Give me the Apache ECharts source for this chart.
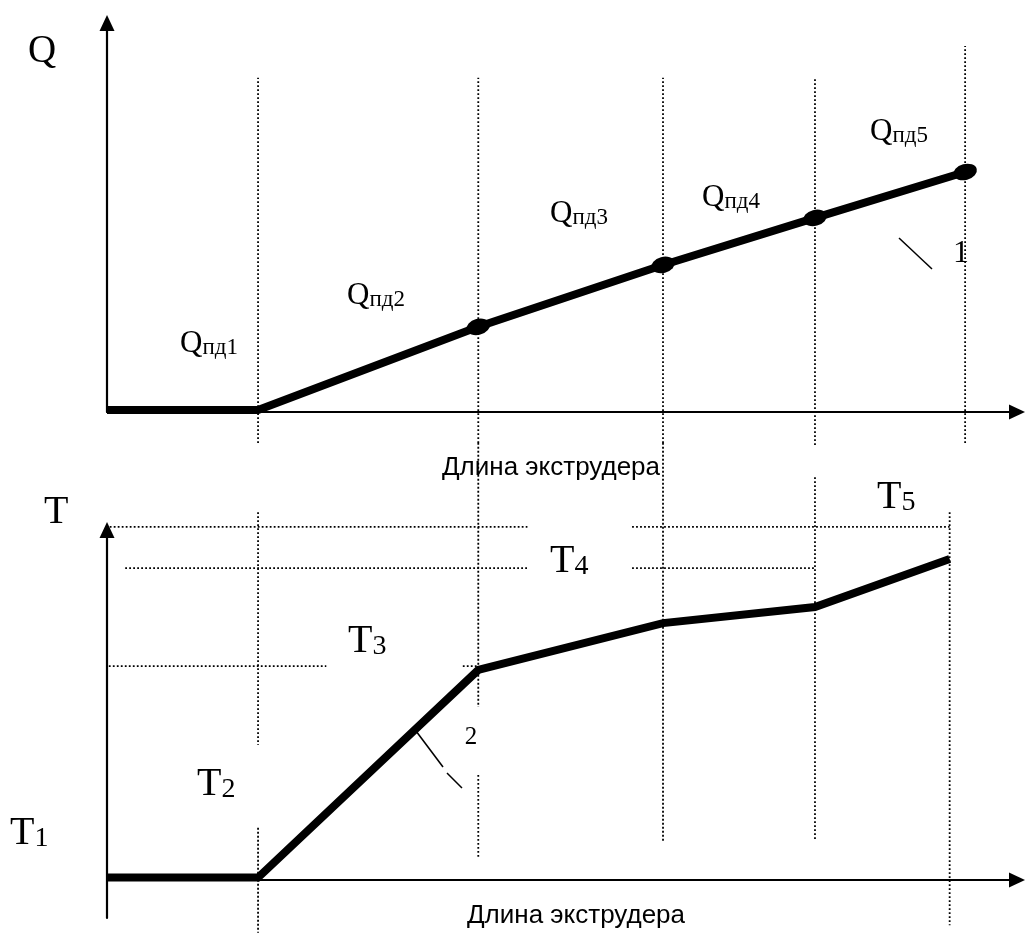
<!DOCTYPE html>
<html>
<head>
<meta charset="utf-8">
<script src="https://cdn.jsdelivr.net/npm/echarts@6/dist/echarts.min.js"></script>
<style>
html,body{margin:0;padding:0;background:#fff}
#main{width:1025px;height:936px}
</style>
</head>
<body>
<div id="main"></div>
<script>
// длина экструдера в усл. ед. (0..100), границы зон
var zonesQ = [0, 16.6, 40.8, 61.1, 77.8, 94.3];
var flowQ = [0.5, 0.5, 21.9, 37.8, 49.9, 61.7];
var zonesT = [0, 16.6, 40.8, 61.1, 77.8, 92.6];
var tempT = [0.7, 0.7, 60, 73.4, 78, 91.7];

// пунктир: [x, y1, y2]
var guidesQ = [
  [16.6, -8, 85.9], [40.8, -8, 85.9], [61.1, -8, 85.9], [77.8, -8.5, 85.9], [94.3, -8, 94.1]
];
var guidesT = [
  [16.6, 105.1, 38.6], [16.6, 14.9, -15.1],
  [40.8, 124.9, 49.4], [40.8, 30, 6.6],
  [61.1, 124.9, 10.9],
  [77.8, 115.1, 11.4],
  [92.6, 105.1, -12.9]
];
// уровни T: [y, x1, x2]
var levelsT = [
  [100.9, 0.3, 46.2], [100.9, 57.7, 92.6],
  [89.1, 2.0, 46.2], [89.1, 57.7, 77.8],
  [61.1, 0.2, 24.1], [61.1, 39.1, 40.8]
];

var serif = 'Liberation Serif, Times New Roman, serif';
var sans = 'Liberation Sans, Arial, sans-serif';

var myChart = echarts.init(document.getElementById('main'));

function axisLine() {
  return {
    show: true,
    onZero: true,
    symbol: ['none', 'triangle'],
    symbolSize: [15, 16],
    lineStyle: { color: '#000', width: 2.2 }
  };
}
function axis(min, max, idx) {
  return {
    type: 'value', gridIndex: idx, min: min, max: max,
    axisLine: axisLine(),
    axisTick: { show: false },
    axisLabel: { show: false },
    splitLine: { show: false }
  };
}

function dotted(data, gi) {
  return {
    type: 'line', xAxisIndex: gi, yAxisIndex: gi,
    data: data, symbol: 'none', clip: false, silent: true, z: 1,
    lineStyle: { color: '#000', width: 1.8, type: [1.8, 2.2] }
  };
}

var series = [];
guidesQ.forEach(function (g) {
  series.push(dotted([[g[0], g[1]], [g[0], g[2]]], 0));
});
guidesT.forEach(function (g) {
  series.push(dotted([[g[0], g[1]], [g[0], g[2]]], 1));
});
levelsT.forEach(function (l) {
  series.push(dotted([[l[1], l[0]], [l[2], l[0]]], 1));
});

series.push({
  type: 'line', xAxisIndex: 0, yAxisIndex: 0, z: 3, symbol: 'none', clip: false,
  data: zonesQ.map(function (x, i) { return [x, flowQ[i]]; }),
  lineStyle: { color: '#000', width: 8, join: 'miter' }
});
series.push({
  type: 'scatter', xAxisIndex: 0, yAxisIndex: 0, z: 4,
  symbol: 'circle', symbolSize: [24, 16], symbolRotate: 15,
  itemStyle: { color: '#000', opacity: 1 },
  data: zonesQ.slice(2).map(function (x, i) { return [x, flowQ[i + 2]]; })
});
series.push({
  type: 'line', xAxisIndex: 1, yAxisIndex: 1, z: 3, symbol: 'none', clip: false,
  data: zonesT.map(function (x, i) { return [x, tempT[i]]; }),
  lineStyle: { color: '#000', width: 8, join: 'miter' }
});

function sub(main, s, x, y, big, small) {
  return {
    type: 'text', x: x, y: y, z: 10,
    style: {
      text: '{a|' + main + '}{b|' + s + '}',
      align: 'left', verticalAlign: 'bottom',
      rich: {
        a: { fontSize: big, fontFamily: serif, fill: '#000', verticalAlign: 'bottom' },
        b: { fontSize: small, fontFamily: serif, fill: '#000', verticalAlign: 'bottom' }
      }
    }
  };
}
function txt(t, x, y, size, fam, align) {
  return {
    type: 'text', x: x, y: y, z: 10,
    style: { text: t, fontSize: size, fontFamily: fam, fill: '#000', align: align || 'left', verticalAlign: 'bottom' }
  };
}
function seg(x1, y1, x2, y2) {
  return { type: 'line', z: 10, shape: { x1: x1, y1: y1, x2: x2, y2: y2 }, style: { stroke: '#000', lineWidth: 1.5 } };
}

var option = {
  animation: false,
  backgroundColor: '#fff',
  grid: [
    { left: 107, right: 8, top: 23, bottom: 524 },
    { left: 107, right: 8, top: 530, bottom: 18 }
  ],
  xAxis: [axis(0, 100, 0), axis(0, 100, 1)],
  yAxis: [axis(0, 100, 0), axis(-10.86, 100, 1)],
  series: series,
  graphic: [
    txt('Q', 28, 71, 39, serif),
    sub('Q', 'пд1', 180, 359, 31, 23),
    sub('Q', 'пд2', 347, 311, 31, 23),
    sub('Q', 'пд3', 550, 229, 31, 23),
    sub('Q', 'пд4', 702, 213, 31, 23),
    sub('Q', 'пд5', 870, 147, 31, 23),
    txt('1', 961, 270, 32, serif, 'center'),
    seg(899, 238, 932, 269),
    txt('Длина экструдера', 551, 481, 26, sans, 'center'),
    txt('T', 44, 532, 40, serif),
    sub('T', '1', 10, 853, 40, 28),
    sub('T', '2', 197, 804, 40, 28),
    sub('T', '3', 348, 661, 40, 28),
    sub('T', '4', 550, 581, 40, 28),
    sub('T', '5', 877, 517, 40, 28),
    txt('2', 471, 750, 25, serif, 'center'),
    seg(416, 731, 443, 767),
    seg(447, 773, 462, 788),
    txt('Длина экструдера', 576, 929, 26, sans, 'center')
  ]
};
myChart.setOption(option);
</script>
</body>
</html>
